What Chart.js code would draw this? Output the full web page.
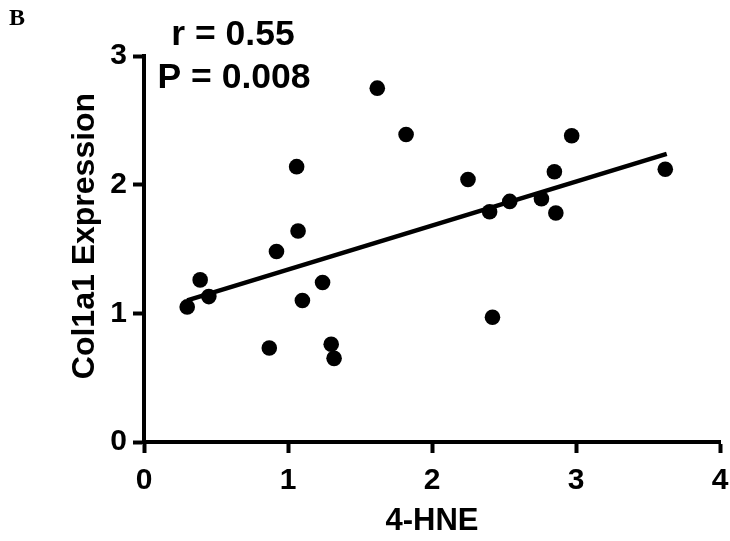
<!DOCTYPE html>
<html>

<head>
    <meta charset="utf-8">
    <title>Col1a1 vs 4-HNE</title>
    <script src="https://cdn.jsdelivr.net/npm/chart.js"></script>
    <style>
        html, body {
            margin: 0;
            padding: 0;
            background: #fff;
        }

        #wrap {
            width: 730px;
            height: 541px;
        }
    </style>
</head>

<body>
    <div id="wrap"><canvas id="scatter"></canvas></div>

    <script>
        // 4-HNE (x) and Col1a1 expression (y)
        const hne = [0.30, 0.39, 0.45, 0.87, 0.92, 1.06, 1.07, 1.10, 1.24, 1.30, 1.32,
            1.62, 1.82, 2.25, 2.40, 2.42, 2.54, 2.76, 2.85, 2.86, 2.97, 3.62];
        const col1a1 = [1.05, 1.26, 1.13, 0.73, 1.48, 2.14, 1.64, 1.10, 1.24, 0.76, 0.65,
            2.75, 2.39, 2.04, 1.79, 0.97, 1.87, 1.89, 2.10, 1.78, 2.38, 2.12];

        // fitted line end points
        const fitX = [0.30, 3.63];
        const fitY = [1.10, 2.24];

        const xTicks = [0, 1, 2, 3, 4];
        const yTicks = [0, 1, 2, 3];

        const stats = ['r = 0.55', 'P = 0.008'];

        const FONT = "'Liberation Sans', Arial, sans-serif";

        // texts that sit outside the normal chart furniture
        const extraText = {
            id: 'extraText',
            afterDraw(chart) {
                const ctx = chart.ctx;
                ctx.save();
                ctx.fillStyle = '#000';

                ctx.font = "bold 24px 'Liberation Serif', serif";
                ctx.textAlign = 'left';
                ctx.textBaseline = 'alphabetic';
                ctx.fillText('B', 9, 25);

                ctx.font = 'bold 35.5px ' + FONT;
                ctx.textAlign = 'center';
                ctx.fillText(stats[0], 233, 45);
                ctx.fillText(stats[1], 234, 88);

                // y axis title
                ctx.font = 'bold 32px ' + FONT;
                ctx.translate(94, 236);
                ctx.rotate(-Math.PI / 2);
                ctx.fillText('Col1a1 Expression', 0, 0);
                ctx.restore();
            }
        };

        const axisGrid = {
            display: true,
            drawOnChartArea: false,
            drawTicks: true,
            tickLength: 11,
            tickWidth: 4,
            tickColor: '#000'
        };

        const ctx = document.getElementById('scatter').getContext('2d');

        new Chart(ctx, {
            type: 'scatter',
            data: {
                datasets: [{
                    label: 'samples',
                    data: hne.map((x, i) => ({ x: x, y: col1a1[i] })),
                    backgroundColor: '#000',
                    borderWidth: 0,
                    pointRadius: 7.8,
                    pointHoverRadius: 7.8
                }, {
                    label: 'fit',
                    type: 'line',
                    data: fitX.map((x, i) => ({ x: x, y: fitY[i] })),
                    borderColor: '#000',
                    borderWidth: 4.5,
                    pointRadius: 0,
                    fill: false
                }]
            },
            options: {
                responsive: true,
                maintainAspectRatio: false,
                animation: false,
                events: [],
                layout: {
                    padding: { left: 0, right: 10, top: 56, bottom: 0 }
                },
                plugins: {
                    legend: { display: false },
                    tooltip: { enabled: false }
                },
                scales: {
                    x: {
                        type: 'linear',
                        min: 0,
                        max: 4,
                        afterBuildTicks: s => { s.ticks = xTicks.map(v => ({ value: v })); },
                        afterFit: s => {
                            s.height = 99;
                            s.paddingLeft = 0;
                            s.paddingRight = 0;
                        },
                        border: { display: true, color: '#000', width: 4 },
                        grid: axisGrid,
                        ticks: {
                            color: '#000',
                            padding: 10,
                            maxRotation: 0,
                            font: { family: FONT, size: 30, weight: 'bold' }
                        },
                        title: {
                            display: true,
                            text: '4-HNE',
                            color: '#000',
                            padding: { top: 0, bottom: 1 },
                            font: { family: FONT, size: 31, weight: 'bold' }
                        }
                    },
                    y: {
                        type: 'linear',
                        min: 0,
                        max: 3,
                        afterBuildTicks: s => { s.ticks = yTicks.map(v => ({ value: v })); },
                        afterFit: s => {
                            s.width = 144;
                            s.paddingTop = 0;
                            s.paddingBottom = 0;
                        },
                        border: { display: true, color: '#000', width: 4 },
                        grid: axisGrid,
                        ticks: {
                            color: '#000',
                            padding: 6,
                            font: { family: FONT, size: 30, weight: 'bold' }
                        }
                    }
                }
            },
            plugins: [extraText]
        });
    </script>
</body>

</html>
